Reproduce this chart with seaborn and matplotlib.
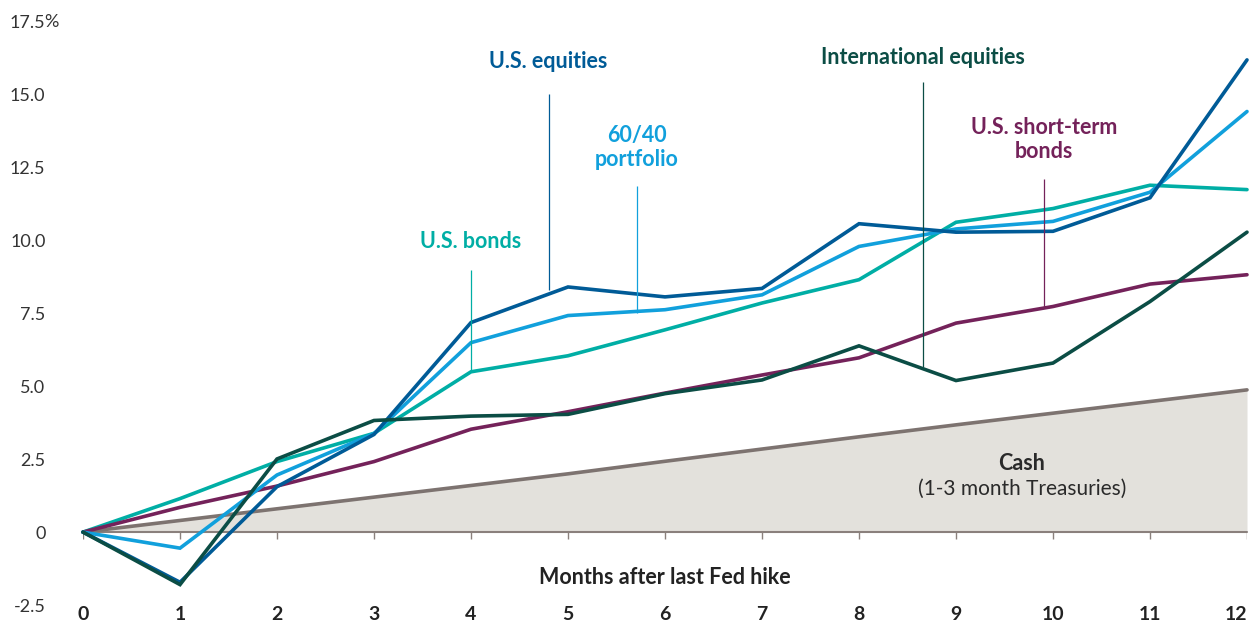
import numpy as np
import pandas as pd
import matplotlib.pyplot as plt
import seaborn as sns

# cumulative returns (%) by month after the last Fed hike
months = list(range(13))
us_equities = [0, -1.72, 1.56, 3.35, 7.19, 8.41, 8.07, 8.36, 10.58, 10.29, 10.32, 11.47, 16.2]
portfolio_60_40 = [0, -0.55, 1.96, 3.38, 6.5, 7.43, 7.63, 8.14, 9.8, 10.4, 10.66, 11.66, 14.43]
us_bonds = [0, 1.15, 2.42, 3.39, 5.5, 6.05, 6.94, 7.86, 8.66, 10.63, 11.1, 11.9, 11.75]
intl_equities = [0, -1.8, 2.51, 3.83, 3.98, 4.04, 4.75, 5.22, 6.39, 5.2, 5.8, 7.91, 10.29]
short_term_bonds = [0, 0.85, 1.58, 2.42, 3.53, 4.13, 4.77, 5.39, 5.98, 7.17, 7.74, 8.51, 8.83]
cash = [0, 0.4, 0.8, 1.2, 1.6, 2.0, 2.43, 2.85, 3.27, 3.68, 4.08, 4.48, 4.88]

y_ticks = [-2.5, 0, 2.5, 5.0, 7.5, 10.0, 12.5, 15.0, 17.5]

colors = {
    'Cash': '#7d7370',
    'U.S. bonds': '#00aea5',
    'U.S. short-term bonds': '#74225a',
    '60/40 portfolio': '#11a0dc',
    'U.S. equities': '#005b97',
    'International equities': '#0b4d45',
}

wide = pd.DataFrame({
    'month': months,
    'Cash': cash,
    'U.S. bonds': us_bonds,
    'U.S. short-term bonds': short_term_bonds,
    '60/40 portfolio': portfolio_60_40,
    'U.S. equities': us_equities,
    'International equities': intl_equities,
})
long = wide.melt(id_vars='month', var_name='series', value_name='value')

sns.set_style('white')
plt.rcParams['font.family'] = ['Lato', 'DejaVu Sans']

fig = plt.figure(figsize=(12.55, 6.23), dpi=100)
ax = fig.add_axes([83 / 1255, 18 / 623, (1247 - 83) / 1255, (605 - 22) / 623])

ax.fill_between(wide['month'], 0, wide['Cash'], color='#e3e1dc', lw=0, zorder=0)
ax.axhline(0, color='#8a807c', lw=1.5, zorder=1)
ax.vlines(months, -0.25, 0, color='#8a807c', lw=1, zorder=1)

sns.lineplot(data=long, x='month', y='value', hue='series', palette=colors,
             hue_order=list(colors.keys()), lw=2.6, ax=ax, legend=False)
for ln in ax.lines:
    ln.set_clip_on(False)
    ln.set_solid_joinstyle('miter')

ax.set_xlim(0, 12)
ax.set_ylim(-2.5, 17.5)
sns.despine(ax=ax, left=True, bottom=True)

ax.set_xticks(months)
ax.set_xticklabels([str(m) for m in months], fontsize=14, fontweight='bold', color='#222222')
ax.get_xticklabels()[-1].set_ha('right')
ax.set_yticks(y_ticks)
ax.set_yticklabels(['0' if v == 0 else f'{v:.1f}' for v in y_ticks], fontsize=13, color='#333333')
ax.tick_params(axis='y', length=0, pad=27)
ax.tick_params(axis='x', length=0, pad=1)
ax.set_xlabel('')
ax.set_ylabel('')
ax.annotate('%', xy=(0, 17.5), xycoords=('axes fraction', 'data'), xytext=(-28, 0),
            textcoords='offset points', ha='left', va='center', fontsize=13, color='#333333')

ax.text(6, -1.55, 'Months after last Fed hike', ha='center', va='center',
        fontsize=15.5, fontweight='bold', color='#222222')

# series labels with leader lines
labels = [
    ('U.S. equities', 4.80, 16.15, 8.32, 15.02),
    ('60/40\nportfolio', 5.71, 13.2, 7.53, 11.86),
    ('U.S. bonds', 4.0, 9.97, 5.5, 9.0),
    ('International equities', 8.66, 16.29, 5.67, 15.43),
    ('U.S. short-term\nbonds', 9.91, 13.47, 7.73, 12.1),
]
for name, x, y, y0, y1 in labels:
    key = name.replace('\n', ' ')
    ax.text(x, y, name, ha='center', va='center', fontsize=15.5, fontweight='bold',
            color=colors[key], linespacing=1.15)
    ax.vlines(x, y0, y1, color=colors[key], lw=0.9, zorder=3)

ax.text(9.68, 2.37, 'Cash', ha='center', va='center', fontsize=15.5, fontweight='bold', color='#2a2a2a')
ax.text(9.68, 1.48, '(1-3 month Treasuries)', ha='center', va='center', fontsize=15, color='#2a2a2a')

fig.savefig('out.png', dpi=100)
